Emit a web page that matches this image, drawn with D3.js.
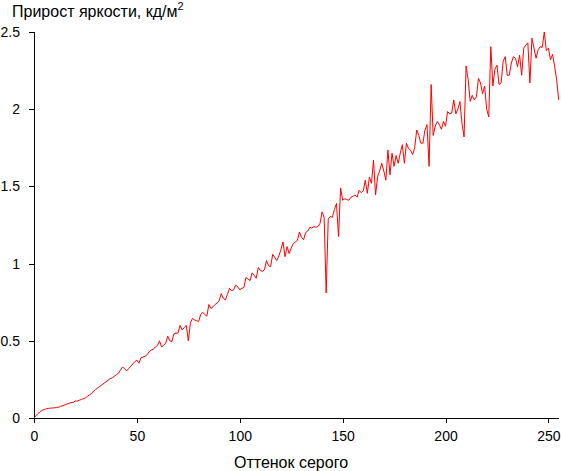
<!DOCTYPE html>
<html>
<head>
<meta charset="utf-8">
<script src="https://cdn.jsdelivr.net/npm/d3@7"></script>
<style>
  html, body { margin: 0; padding: 0; background: #fff; }
  svg { display: block; }
  text { font-family: "Liberation Sans", Arial, sans-serif; fill: #000; }
</style>
</head>
<body>
<svg id="chart" width="561" height="471"></svg>
<script>
// Brightness increment per gray level (0..255)
const values = [
  0.00, 0.015, 0.03, 0.04, 0.05, 0.055, 0.06, 0.062, 0.064, 0.065,
  0.066, 0.068, 0.07, 0.076, 0.08, 0.085, 0.09, 0.095, 0.10, 0.10,
  0.11, 0.11, 0.115, 0.12, 0.125, 0.13, 0.14, 0.15, 0.16, 0.175,
  0.185, 0.195, 0.205, 0.215, 0.225, 0.235, 0.245, 0.255, 0.26, 0.27,
  0.28, 0.29, 0.31, 0.33, 0.32, 0.305, 0.32, 0.335, 0.35, 0.365,
  0.375, 0.355, 0.39, 0.395, 0.40, 0.41, 0.43, 0.44, 0.445, 0.46,
  0.47, 0.50, 0.46, 0.47, 0.485, 0.53, 0.50, 0.495, 0.545, 0.55,
  0.55, 0.60, 0.57, 0.585, 0.60, 0.50, 0.615, 0.645, 0.635, 0.63,
  0.625, 0.67, 0.685, 0.67, 0.66, 0.735, 0.71, 0.72, 0.735, 0.745,
  0.76, 0.805, 0.775, 0.765, 0.80, 0.84, 0.825, 0.83, 0.86, 0.85,
  0.83, 0.84, 0.845, 0.91, 0.90, 0.89, 0.94, 0.925, 0.905, 0.975,
  0.955, 0.95, 0.96, 1.02, 0.985, 0.98, 1.06, 1.04, 1.02, 1.05,
  1.09, 1.14, 1.045, 1.11, 1.065, 1.10, 1.13, 1.14, 1.15, 1.205,
  1.17, 1.155, 1.20, 1.21, 1.235, 1.23, 1.24, 1.235, 1.24, 1.26,
  1.335, 1.30, 0.81, 1.29, 1.305, 1.30, 1.35, 1.39, 1.175, 1.49,
  1.41, 1.42, 1.415, 1.41, 1.43, 1.435, 1.445, 1.43, 1.475, 1.46,
  1.47, 1.54, 1.455, 1.56, 1.52, 1.67, 1.445, 1.565, 1.60, 1.65,
  1.60, 1.54, 1.735, 1.575, 1.715, 1.63, 1.70, 1.65, 1.715, 1.77,
  1.65, 1.78, 1.745, 1.735, 1.705, 1.75, 1.865, 1.83, 1.78, 1.78,
  1.865, 1.90, 1.63, 2.16, 1.83, 1.89, 1.92, 1.90, 1.87, 1.92,
  1.89, 1.985, 1.97, 1.975, 2.06, 1.97, 2.00, 2.05, 1.91, 1.82,
  2.28, 2.19, 2.05, 2.09, 2.06, 2.08, 2.20, 2.17, 2.10, 2.15,
  2.00, 1.95, 2.405, 2.15, 2.26, 2.285, 2.16, 2.17, 2.31, 2.34,
  2.22, 2.22, 2.30, 2.34, 2.33, 2.275, 2.35, 2.22, 2.395, 2.415,
  2.43, 2.17, 2.46, 2.395, 2.33, 2.385, 2.405, 2.40, 2.50, 2.38,
  2.395, 2.32, 2.355, 2.28, 2.19, 2.06
];
const xTicks = [0, 50, 100, 150, 200, 250];
const yTicks = [0, 0.5, 1, 1.5, 2, 2.5];
const yTickLabels = ["0", "0.5", "1", "1.5", "2", "2.5"];
const titleText = "Прирост яркости, кд/м";
const titleSup = "2";
const xLabel = "Оттенок серого";

(function () {
  const svg = d3.select("#chart");
  const mLeft = 34, mRight = 559, mTop = 32, mBottom = 418;

  const x = d3.scaleLinear().domain([0, 255]).range([mLeft, 558.7]);
  const y = d3.scaleLinear().domain([0, 2.5]).range([mBottom, mTop]);

  // axes
  const xAxis = d3.axisBottom(x).tickValues(xTicks).tickSize(5).tickPadding(8).tickFormat(d3.format("d"));
  const gx = svg.append("g").attr("transform", `translate(0,${mBottom})`).call(xAxis);
  gx.select(".domain").attr("d", `M${mLeft},0.5H${mRight}`);

  const yAxis = d3.axisLeft(y).tickValues(yTicks).tickSize(5).tickPadding(9)
    .tickFormat((d, i) => yTickLabels[i]);
  const gy = svg.append("g").attr("transform", `translate(${mLeft},0)`).call(yAxis);
  gy.select(".domain").attr("d", `M0.5,${mTop}V${mBottom}`);

  [gx, gy].forEach(g => {
    g.selectAll(".domain").attr("stroke", "#000").attr("stroke-width", 1).attr("shape-rendering", "crispEdges");
    g.selectAll(".tick line").attr("stroke", "#000").attr("shape-rendering", "crispEdges");
    g.selectAll(".tick text").attr("font-size", 14).attr("font-family", "Liberation Sans, Arial, sans-serif").attr("fill", "#000");
  });

  // line
  const line = d3.line().x((d, i) => x(i)).y(d => y(d));
  svg.append("path")
    .datum(values)
    .attr("fill", "none")
    .attr("stroke", "#ff0000")
    .attr("stroke-width", 1)
    .attr("d", line);

  // title
  const t = svg.append("text").attr("x", 12).attr("y", 17).attr("font-size", 16);
  t.append("tspan").text(titleText);
  t.append("tspan").attr("font-size", 11).attr("dy", -7).text(titleSup);

  // x label
  svg.append("text")
    .attr("x", 291).attr("y", 468)
    .attr("text-anchor", "middle")
    .attr("font-size", 16)
    .text(xLabel);
})();
</script>
</body>
</html>
